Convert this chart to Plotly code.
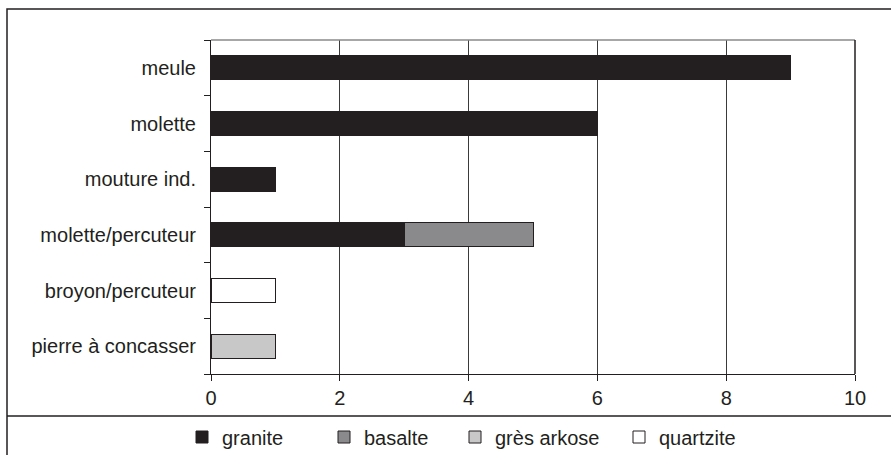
import plotly.graph_objects as go

# categories, top to bottom
categories = ["meule", "molette", "mouture ind.", "molette/percuteur",
              "broyon/percuteur", "pierre à concasser"]

# counts per rock type (None = no piece of that rock)
granite = [9, 6, 1, 3, None, None]
basalte = [None, None, None, 2, None, None]
gres_arkose = [None, None, None, None, None, 1]
quartzite = [None, None, None, None, 1, None]

x_ticks = [0, 2, 4, 6, 8, 10]

series = [
    ("granite", granite, "#231f20"),
    ("basalte", basalte, "#8a8a8c"),
    ("grès arkose", gres_arkose, "#c8c8c8"),
    ("quartzite", quartzite, "#ffffff"),
]

FONT = "Liberation Sans, Arial, sans-serif"
TXT = "#231f20"

W, H = 891, 455
L, R, T, B = 211, 855, 40, 374
pw, ph = R - L, B - T


def px_x(p):
    return (p - L) / pw


def px_y(p):
    return (B - p) / ph


fig = go.Figure()

# legend text starts (px), one legend per entry
legend_text_x = [220, 362, 493, 657]
legend_names = ["legend", "legend2", "legend3", "legend4"]

for (name, vals, col), lg in zip(series, legend_names):
    fig.add_trace(go.Bar(
        y=categories, x=vals, name=name, orientation="h",
        marker=dict(color=col, line=dict(color="#231f20", width=1)),
        legend=lg,
    ))

legends = {}
for lg, tx in zip(legend_names, legend_text_x):
    legends[lg] = dict(
        x=px_x(tx - 38), xanchor="left", y=px_y(437), yanchor="middle",
        orientation="h", bgcolor="rgba(0,0,0,0)",
        font=dict(family=FONT, size=20, color=TXT),
        itemclick=False, tracegroupgap=0,
    )

fig.update_layout(
    width=W, height=H,
    margin=dict(l=L, r=W - R, t=T, b=H - B, pad=0, autoexpand=False),
    barmode="stack", bargap=0.57,
    plot_bgcolor="white", paper_bgcolor="white",
    font=dict(family=FONT, size=20, color=TXT),
    showlegend=True,
    **legends,
)

fig.update_xaxes(
    range=[0, 10], tickvals=x_ticks, showgrid=True, gridcolor="#3a3a3a", gridwidth=1,
    showline=True, linecolor="#231f20", linewidth=1,
    ticks="outside", ticklen=6, tickcolor="#231f20", ticklabelstandoff=0,
    zeroline=False, fixedrange=True,
)
fig.update_yaxes(
    categoryorder="array", categoryarray=categories[::-1],
    showline=True, linecolor="#231f20", linewidth=1,
    ticks="outside", ticklen=6, tickcolor="#231f20", tickson="boundaries",
    ticklabelstandoff=10, showgrid=False, fixedrange=True,
)

# plot area border (top gray, right dark)
fig.add_shape(type="line", xref="paper", yref="paper", x0=0, x1=1, y0=1, y1=1,
              line=dict(color="#8a8a8a", width=1.5))
fig.add_shape(type="line", xref="paper", yref="paper", x0=1, x1=1, y0=0, y1=1,
              line=dict(color="#231f20", width=1.5))
# outer frame and legend separator
fig.add_shape(type="rect", xref="paper", yref="paper",
              x0=px_x(7), x1=px_x(920), y0=px_y(480), y1=px_y(9),
              line=dict(color="#231f20", width=1.5), layer="below")
fig.add_shape(type="line", xref="paper", yref="paper",
              x0=px_x(7), x1=px_x(920), y0=px_y(416), y1=px_y(416),
              line=dict(color="#231f20", width=1.5))

# pin the figure to the window origin
page_css = (
    "var h=document.documentElement, b=document.body;"
    "h.style.margin='0'; h.style.overflow='hidden';"
    "b.style.margin='0'; b.style.overflow='hidden';"
)
fig.write_html("out.html", config={"displayModeBar": False}, post_script=page_css)
